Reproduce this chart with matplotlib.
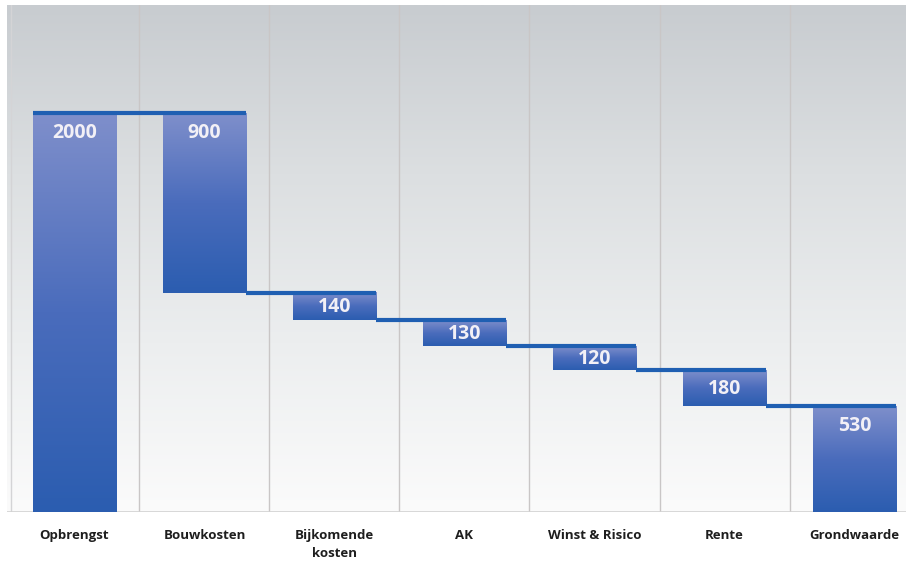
import numpy as np
import matplotlib.pyplot as plt
from matplotlib.colors import LinearSegmentedColormap

# Grondwaarde calculation (residual method)
categories = ['Opbrengst', 'Bouwkosten', 'Bijkomende\nkosten', 'AK',
              'Winst & Risico', 'Rente', 'Grondwaarde']
values = [2000, 900, 140, 130, 120, 180, 530]
kind = ['total', 'cost', 'cost', 'cost', 'cost', 'cost', 'total']

# bar spans: totals start at zero, costs hang down from the running total
bottoms, tops = [], []
running = 0
for v, k in zip(values, kind):
    if k == 'total':
        bottoms.append(0)
        tops.append(v)
        running = v
    else:
        tops.append(running)
        running -= v
        bottoms.append(running)

fig = plt.figure(figsize=(9.09, 5.61), dpi=100)
ax = fig.add_axes([7 / 909, 49 / 561, 899 / 909, 507 / 561])
ax.set_xlim(-0.519, 6.396)
ax.set_ylim(0, 2541)

# grey-to-white background
bg = LinearSegmentedColormap.from_list('bg', ['#fbfbfb', '#eceeef', '#dcdfe1', '#c8ccd0'])
ax.imshow(np.linspace(0, 1, 256).reshape(-1, 1), cmap=bg, aspect='auto',
          extent=[-0.519, 6.396, 0, 2541], origin='lower', zorder=0)

for xs in np.arange(0.5, 6, 1.0):
    ax.axvline(xs, color='#c9c6c6', lw=1.0, zorder=1)
ax.axvline(-0.49, color='#d4d4d6', lw=1.0, zorder=1)
ax.axhline(0, color='#d2d2d2', lw=1.2, zorder=1)

bar_cmap = LinearSegmentedColormap.from_list('bar', ['#2b5db0', '#4a6cbc', '#7f8fcb'])
w = 0.64
grad = np.linspace(0, 1, 256).reshape(-1, 1)
for i, (b, t) in enumerate(zip(bottoms, tops)):
    ax.imshow(grad, cmap=bar_cmap, aspect='auto', origin='lower',
              extent=[i - w / 2, i + w / 2, b, t], zorder=2,
              interpolation='bilinear')

# step connectors along the top of each bar
line_kw = dict(color='#1f5fb2', lw=3.0, solid_capstyle='butt', zorder=3)
ax.plot([-w / 2, w / 2], [tops[0], tops[0]], **line_kw)
for i in range(1, len(values)):
    ax.plot([i - 1 + w / 2, i + w / 2], [tops[i], tops[i]], **line_kw)

for i, (v, b, t) in enumerate(zip(values, bottoms, tops)):
    y = t - 100 if (t - b) > 300 else (t + b) / 2 - 5
    ax.text(i, y, str(v), color='#f2f0f6', fontsize=14, fontweight='bold',
            family='Open Sans', ha='center', va='center', zorder=4)

ax.set_xticks(range(len(categories)))
ax.set_xticklabels(categories, fontsize=9.5, fontweight='bold',
                   family='Open Sans', color='#1e1e1e', linespacing=1.5)
ax.tick_params(axis='x', length=0, pad=12)
ax.set_yticks([])
for s in ax.spines.values():
    s.set_visible(False)

fig.savefig('out.png', dpi=100)
